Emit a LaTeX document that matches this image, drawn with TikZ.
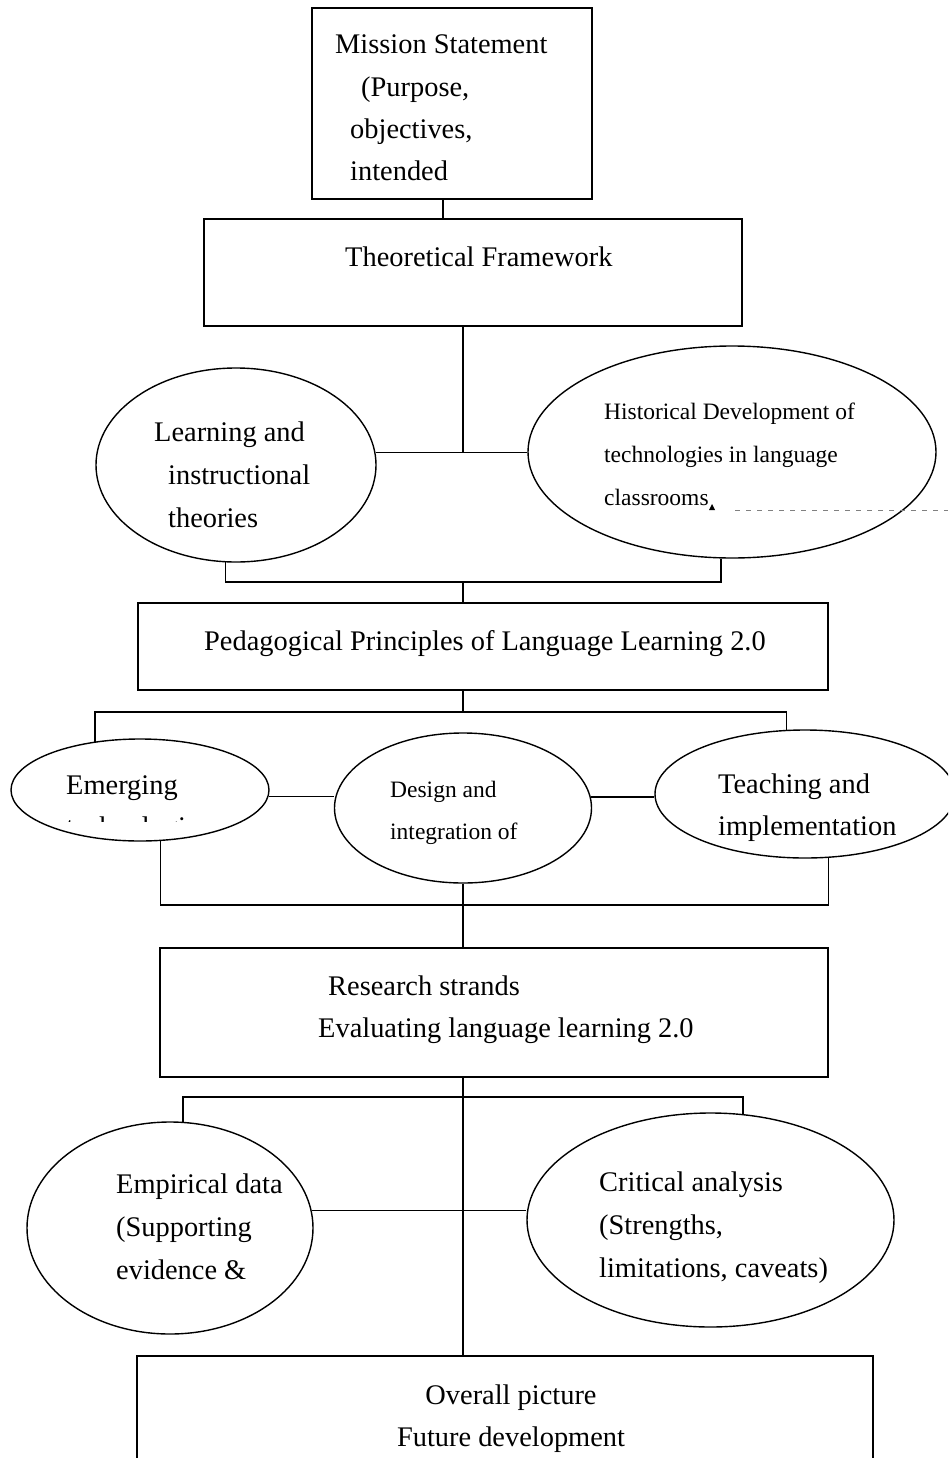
\documentclass[tikz,border=0pt]{standalone}
\usepackage{fontspec}
\setmainfont{Liberation Serif}
\usetikzlibrary{shapes.geometric}
\tikzset{
  box/.style={draw, rectangle, line width=1.4pt, inner sep=0pt},
  ell/.style={draw, ellipse, line width=1.4pt, inner sep=0pt},
  conn/.style={line width=1.4pt},
  big/.style={anchor=base west, inner sep=0pt, font=\fontsize{28.4}{34}\selectfont},
  small/.style={anchor=base west, inner sep=0pt, font=\fontsize{23.5}{28}\selectfont},
}
\begin{document}
\begin{tikzpicture}[x=1pt,y=-1pt]
\clip (0,0) rectangle (948,1458);
\fill[white] (0,0) rectangle (948,1458);

% boxes
\node[box, minimum width=280pt, minimum height=191pt] (mission) at (452,103.5) {};
\node[box, minimum width=538pt, minimum height=107pt] (theo) at (473,272.5) {};
\node[box, minimum width=690pt, minimum height=87pt] (ped) at (483,646.5) {};
\node[box, minimum width=668pt, minimum height=129pt] (res) at (494,1012.5) {};
\node[box, minimum width=736pt, minimum height=160pt] (overall) at (505,1436) {};

% ellipses
\node[ell, minimum width=280pt, minimum height=194pt] (learn) at (236,465) {};
\node[ell, minimum width=408pt, minimum height=212pt] (hist) at (732,452) {};
\node[ell, minimum width=258pt, minimum height=102pt] (emerg) at (140,790) {};
\node[ell, minimum width=257pt, minimum height=150pt] (design) at (463,808) {};
\node[ell, minimum width=300pt, minimum height=128pt] (teach) at (805,794) {};
\node[ell, minimum width=286pt, minimum height=212pt] (emp) at (170,1228) {};
\node[ell, minimum width=367pt, minimum height=214pt] (crit) at (710.5,1220) {};

% junction coordinates
\coordinate (j1) at (463,453);
\coordinate (b1) at (463,582);
\coordinate (b2) at (463,712);
\coordinate (b3) at (463,905);
\coordinate (b4) at (463,1097);

% connectors
\draw[conn] ([xshift=-9pt]mission.south) -- ([xshift=-9pt]mission.south |- theo.north);
\draw[conn] (j1 |- theo.south) -- (j1);
\draw[conn] (learn.5.5) -- (learn.5.5 -| hist.west);
\draw[conn] (learn.-96) |- (b1) -| (hist.-96.5);
\draw[conn] (b1) -- (b1 |- ped.north);
\draw[conn] (b2 |- ped.south) -- (b2);
\draw[conn] (emerg.133.3) |- (b2) -| (teach.106.7);
\draw[conn] (emerg.-3.1) -- (emerg.-3.1 -| design.west);
\draw[conn] (design.5.2) -- (design.5.2 -| teach.west);
\draw[conn] (emerg.-68.4) |- (b3) -| (teach.-70);
\draw[conn] (design.south) -- (design.south |- res.north);
\draw[conn] (b4 |- res.south) -- (b4 |- overall.north);
\draw[conn] (emp.83) |- (b4) -| (crit.73.4);
\draw[conn] (emp.7.3) -- (emp.7.3 -| crit.west);

% texts
\node[big] (t1) at (335,54) {Mission Statement};
\node[big] (t2) at (361,97) {(Purpose,};
\node[big] (t3) at (350,139) {objectives,};
\node[big] (t4) at (350,181) {intended};
\node[big] (t5) at (345,266) {Theoretical Framework};
\node[big] (t6) at (154,441) {Learning and};
\node[big] (t7) at (168,484) {instructional};
\node[big] (t8) at (168,527) {theories};
\node[small] (t9) at (604,419) {Historical Development of};
\node[small] (t10) at (604,462) {technologies in language};
\node[small] (t11) at (604,505) {classrooms};
\node[big] (t12) at (204,650) {Pedagogical Principles of Language Learning 2.0};
\node[big] (t13) at (66,794) {Emerging};
\begin{scope}
\clip (40,815) rectangle (230,821);
\node[big] (t14) at (66,836) {technologies};
\end{scope}
\node[small] (t15) at (390,797) {Design and};
\node[small] (t16) at (390,839) {integration of};
\node[big] (t17) at (718,793) {Teaching and};
\node[big] (t18) at (718,835) {implementation};
\node[big] (t19) at (328,995) {Research strands};
\node[big] (t20) at (318,1037) {Evaluating language learning 2.0};
\node[big] (t21) at (116,1193) {Empirical data};
\node[big] (t22) at (116,1236) {(Supporting};
\node[big] (t23) at (116,1279) {evidence \&};
\node[big] (t24) at (599,1191) {Critical analysis};
\node[big] (t25) at (599,1234) {(Strengths,};
\node[big] (t26) at (599,1277) {limitations, caveats)};
\node[big, anchor=base] (t27) at (511,1404) {Overall picture};
\node[big, anchor=base] (t28) at (511,1446) {Future development};

% scan artefacts near "classrooms"
\fill (709,510) -- (715,510) -- (712,504) -- cycle;
\coordinate (d0) at (735,510);
\draw[gray, line width=0.8pt, dash pattern=on 5pt off 6pt] (d0) -- (948,510);
\end{tikzpicture}
\end{document}
